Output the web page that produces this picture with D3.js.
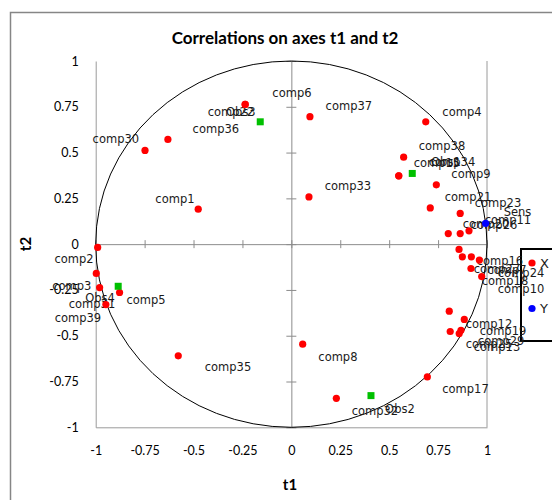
<!DOCTYPE html>
<html>
<head>
<meta charset="utf-8">
<script src="https://cdn.jsdelivr.net/npm/d3@7"></script>
<style>
  body { margin: 0; background: #fff; }
  svg { display: block; }
</style>
</head>
<body>
<div id="chart"></div>
<script>
// variables (X) - correlations with t1 / t2, plus where XLSTAT put the label
const compNames = ["comp6", "comp22", "comp36", "comp30", "comp1", "comp37", "comp4", "comp38",
  "comp15", "comp34", "comp9", "comp33", "comp21", "comp23", "comp20", "comp26", "comp11",
  "comp7", "comp10", "comp24", "comp16", "comp27", "comp18", "comp25", "comp12", "comp29",
  "comp19", "comp13", "comp17", "comp8", "comp32", "comp2", "comp3", "comp39", "comp5",
  "comp31", "comp35"];
const compT1 = [-0.236, -0.236, -0.631, -0.748, -0.476, 0.095, 0.687, 0.574,
  0.549, 0.549, 0.741, 0.090, 0.710, 0.863, 0.802, 0.863, 0.908,
  0.857, 0.874, 0.920, 0.961, 0.918, 0.973, 0.807, 0.884, 0.812,
  0.867, 0.858, 0.695, 0.058, 0.230, -0.990, -0.997, -0.980, -0.878,
  -0.948, -0.578];
const compT2 = [0.763, 0.763, 0.572, 0.512, 0.191, 0.696, 0.668, 0.475,
  0.373, 0.373, 0.324, 0.258, 0.198, 0.168, 0.058, 0.058, 0.073,
  -0.029, -0.069, -0.069, -0.087, -0.133, -0.177, -0.366, -0.411, -0.477,
  -0.470, -0.488, -0.725, -0.546, -0.842, -0.018, -0.160, -0.237, -0.264,
  -0.330, -0.610];
const compLabelT1 = [0.003, -0.309, -0.386, -0.897, -0.595, 0.294, 0.872, 0.770,
  0.744, 0.821, 0.918, 0.289, 0.903, 1.056, 0.995, 1.036, 1.107,
  1.102, 1.174, 1.174, 1.066, 1.051, 1.092, 1.010, 1.010, 1.072,
  1.082, 1.051, 0.890, 0.238, 0.427, -1.111, -1.122, -1.091, -0.743,
  -1.019, -0.324];
const compLabelT2 = [0.825, 0.721, 0.628, 0.574, 0.246, 0.754, 0.721, 0.536,
  0.443, 0.448, 0.383, 0.317, 0.257, 0.224, 0.109, 0.104, 0.131,
  -0.142, -0.246, -0.158, -0.093, -0.137, -0.202, -0.546, -0.437, -0.530,
  -0.475, -0.563, -0.792, -0.617, -0.913, -0.082, -0.230, -0.404, -0.306,
  -0.328, -0.672];

// dependent variable (Y)
const yNames = ["Sens"];
const yT1 = [0.993];
const yT2 = [0.113];
const yLabelT1 = [1.156];
const yLabelT2 = [0.175];

// observations
const obsNames = ["Obs1", "Obs2", "Obs3", "Obs4"];
const obsT1 = [0.618, 0.407, -0.159, -0.885];
const obsT2 = [0.386, -0.827, 0.668, -0.230];
const obsLabelT1 = [0.790, 0.555, -0.258, -0.978];
const obsLabelT2 = [0.448, -0.902, 0.721, -0.295];

const tickValues = [-1, -0.75, -0.5, -0.25, 0, 0.25, 0.5, 0.75, 1];
const legendNames = ["X", "Y"];

const W = 552, H = 500;
const svg = d3.select("#chart").append("svg")
  .attr("width", W)
  .attr("height", H);

// outer chart frame (runs off the right / bottom like the screenshot)
svg.append("rect")
  .attr("x", 10.5).attr("y", 12.5)
  .attr("width", 560).attr("height", 520)
  .attr("fill", "none")
  .attr("stroke", "#868686")
  .attr("stroke-width", 1.5);

svg.append("text")
  .attr("x", 285).attr("y", 44)
  .attr("text-anchor", "middle")
  .style("font-family", "Lato")
  .style("font-weight", "bold")
  .style("font-size", "17px")
  .style("fill", "#000")
  .text("Correlations on axes t1 and t2");

const x = d3.scaleLinear().domain([-1, 1]).range([95.7, 487]);
const y = d3.scaleLinear().domain([-1, 1]).range([427.3, 61]);

const fmt = d => String(d);

// left axis (at t1 = -1) with the labels
const left = svg.append("g")
  .attr("transform", `translate(${x(-1)},0)`)
  .call(d3.axisLeft(y).tickValues(tickValues).tickFormat(fmt).tickSize(0).tickPadding(17));
// bottom axis (at t2 = -1)
const bottom = svg.append("g")
  .attr("transform", `translate(0,${y(-1)})`)
  .call(d3.axisBottom(x).tickValues(tickValues).tickFormat(fmt).tickSize(0).tickPadding(19));
// right border line at t1 = 1
svg.append("line")
  .attr("x1", x(1)).attr("x2", x(1))
  .attr("y1", y(1)).attr("y2", y(-1))
  .attr("stroke", "#9a9a9a");

[left, bottom].forEach(g => {
  g.select(".domain").attr("stroke", "#9a9a9a");
  g.selectAll("text")
    .style("font-family", "Lato")
    .style("font-size", "12.5px")
    .style("fill", "#000");
});

// axes through the origin with crossing tick marks
const cx = svg.append("g")
  .attr("transform", `translate(${x(0)},0)`)
  .call(d3.axisLeft(y).tickValues(tickValues).tickFormat("").tickSizeOuter(0));
cx.selectAll(".tick line").attr("x1", -5).attr("x2", 5);
const cy = svg.append("g")
  .attr("transform", `translate(0,${y(0)})`)
  .call(d3.axisBottom(x).tickValues(tickValues).tickFormat("").tickSizeOuter(0));
cy.selectAll(".tick line").attr("y1", -4).attr("y2", 4);
[cx, cy].forEach(g => {
  g.select(".domain").attr("stroke", "#8c8c8c");
  g.selectAll(".tick line").attr("stroke", "#8c8c8c");
});

// unit circle
svg.append("ellipse")
  .attr("cx", x(0)).attr("cy", y(0))
  .attr("rx", x(1) - x(0)).attr("ry", y(0) - y(1))
  .attr("fill", "none")
  .attr("stroke", "#000")
  .attr("stroke-width", 1);

// axis titles
svg.append("text")
  .attr("x", 290).attr("y", 490)
  .attr("text-anchor", "middle")
  .style("font-family", "Lato").style("font-weight", "bold").style("font-size", "15px")
  .text("t1");
svg.append("text")
  .attr("transform", "translate(31,244) rotate(-90)")
  .attr("text-anchor", "middle")
  .style("font-family", "Lato").style("font-weight", "bold").style("font-size", "15px")
  .text("t2");

// legend (drawn under the point labels, as in the original)
const legend = svg.append("g").attr("transform", "translate(521,249)");
legend.append("rect")
  .attr("width", 60).attr("height", 92)
  .attr("fill", "none")
  .attr("stroke", "#000")
  .attr("stroke-width", 2);
const legendColor = d3.scaleOrdinal().domain(legendNames).range(["#ff0000", "#0000ff"]);
const li = legend.selectAll("g.item")
  .data(legendNames)
  .join("g")
    .attr("class", "item")
    .attr("transform", (d, i) => `translate(0,${14 + i * 45.5})`);
li.append("circle")
  .attr("cx", 11).attr("cy", 0).attr("r", 3.6)
  .attr("fill", d => legendColor(d));
li.append("text")
  .attr("x", 19).attr("y", 0).attr("dy", "0.36em")
  .style("font-family", "DejaVu Sans")
  .style("font-size", "13px")
  .style("fill", "#1a1a1a")
  .text(d => d);

const comps = compNames.map((n, i) => ({ n, t1: compT1[i], t2: compT2[i], l1: compLabelT1[i], l2: compLabelT2[i] }));
const ys = yNames.map((n, i) => ({ n, t1: yT1[i], t2: yT2[i], l1: yLabelT1[i], l2: yLabelT2[i] }));
const obs = obsNames.map((n, i) => ({ n, t1: obsT1[i], t2: obsT2[i], l1: obsLabelT1[i], l2: obsLabelT2[i] }));

// point labels
svg.append("g")
  .selectAll("text")
  .data(comps.concat(ys, obs))
  .join("text")
    .attr("x", d => x(d.l1))
    .attr("y", d => y(d.l2))
    .attr("dy", "0.35em")
    .attr("text-anchor", "middle")
    .style("font-family", "DejaVu Sans")
    .style("font-size", "11.5px")
    .style("fill", "#1a1a1a")
    .text(d => d.n);

// markers
svg.append("g")
  .selectAll("circle")
  .data(comps)
  .join("circle")
    .attr("cx", d => x(d.t1))
    .attr("cy", d => y(d.t2))
    .attr("r", 3.6)
    .attr("fill", "#ff0000");
svg.append("g")
  .selectAll("rect")
  .data(obs)
  .join("rect")
    .attr("x", d => x(d.t1) - 3.5)
    .attr("y", d => y(d.t2) - 3.5)
    .attr("width", 7).attr("height", 7)
    .attr("fill", "#00c000");
svg.append("g")
  .selectAll("circle")
  .data(ys)
  .join("circle")
    .attr("cx", d => x(d.t1))
    .attr("cy", d => y(d.t2))
    .attr("r", 3.6)
    .attr("fill", "#0000ff");
</script>
</body>
</html>
